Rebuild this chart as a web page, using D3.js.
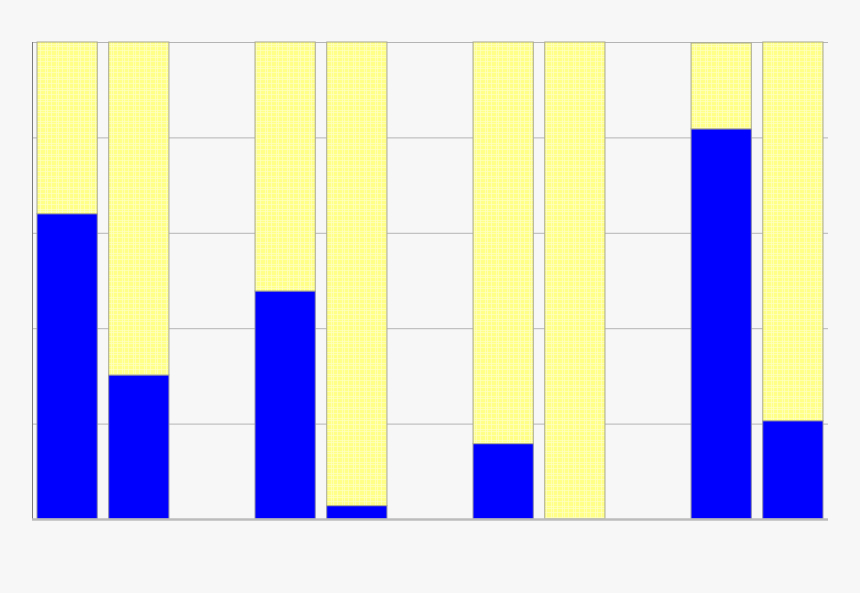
<!DOCTYPE html>
<html>
<head>
<meta charset="utf-8">
<script src="https://cdn.jsdelivr.net/npm/d3@7/dist/d3.min.js"></script>
<style>
  html, body { margin: 0; padding: 0; background: #f7f7f7; }
  svg { display: block; }
</style>
</head>
<body>
<svg id="chart"></svg>
<script>
// groups and the two bars inside each group
const groups = ["A", "B", "C", "D"];
const bars = ["s1", "s2"];

// blue (bottom) and yellow (top) segment values, one per bar, in group order
const blueValues = [64, 30.2, 47.8, 2.8, 15.8, 0, 81.8, 20.6];
const yellowValues = [36, 69.8, 52.2, 97.2, 84.2, 100, 18, 79.4];

const yTicks = [0, 20, 40, 60, 80, 100];

(function() {
  const W = 860, H = 593;
  const margin = { top: 42, right: 32, bottom: 74, left: 32 };
  const width = W - margin.left - margin.right;
  const height = H - margin.top - margin.bottom;

  const root = d3.select("#chart").attr("width", W).attr("height", H);

  // soft hatched yellow fill
  const defs = root.append("defs");
  const pat = defs.append("pattern")
    .attr("id", "yellowPat")
    .attr("patternUnits", "userSpaceOnUse")
    .attr("width", 11).attr("height", 11);
  pat.append("rect").attr("width", 11).attr("height", 11).attr("fill", "#ffff88");
  [2, 4, 8].forEach(p => {
    pat.append("rect").attr("x", p).attr("y", 0).attr("width", 1).attr("height", 11)
      .attr("fill", "#ffffc4").attr("opacity", 0.7);
    pat.append("rect").attr("x", 0).attr("y", p).attr("width", 11).attr("height", 1)
      .attr("fill", "#ffffc4").attr("opacity", 0.7);
  });

  const svg = root.append("g")
    .attr("transform", "translate(" + margin.left + "," + margin.top + ")");

  const data = [];
  groups.forEach((g, gi) => {
    bars.forEach((b, bi) => {
      const i = gi * 2 + bi;
      data.push({ group: g, bar: b, blue: blueValues[i], yellow: yellowValues[i] });
    });
  });

  const x0 = d3.scaleBand()
    .domain(groups)
    .range([0, width])
    .paddingInner(0.395)
    .paddingOuter(0.023);

  const x1 = d3.scaleBand()
    .domain(bars)
    .range([0, x0.bandwidth()])
    .paddingInner(0.16)
    .paddingOuter(0);

  const y = d3.scaleLinear()
    .domain([0, 100])
    .range([height, 0]);

  // gridlines
  svg.append("g")
    .call(d3.axisLeft(y).tickValues(yTicks).tickSize(-width).tickFormat(""))
    .call(g => g.select(".domain").remove())
    .call(g => g.selectAll("line").attr("stroke", "#b4b4b4").attr("stroke-width", 1));

  const bx = d => x0(d.group) + x1(d.bar);

  // blue segments
  svg.selectAll(".blue")
    .data(data)
    .enter()
    .append("rect")
    .attr("class", "blue")
    .attr("x", bx)
    .attr("y", d => y(d.blue))
    .attr("width", x1.bandwidth())
    .attr("height", d => y(0) - y(d.blue))
    .attr("fill", "#0000ff")
    .attr("stroke", "#8a8aa8")
    .attr("stroke-width", 1);

  // yellow segments
  svg.selectAll(".yellow")
    .data(data)
    .enter()
    .append("rect")
    .attr("class", "yellow")
    .attr("x", bx)
    .attr("y", d => y(d.blue + d.yellow))
    .attr("width", x1.bandwidth())
    .attr("height", d => y(d.blue) - y(d.blue + d.yellow))
    .attr("fill", "url(#yellowPat)")
    .attr("stroke", "#a8a890")
    .attr("stroke-width", 1);

  // left axis line
  svg.append("line")
    .attr("x1", 0.5).attr("x2", 0.5)
    .attr("y1", y(100)).attr("y2", y(0))
    .attr("stroke", "#7a7a7a").attr("stroke-width", 1);

  // bottom axis line
  svg.append("line")
    .attr("x1", 0).attr("x2", width)
    .attr("y1", y(0) + 0.5).attr("y2", y(0) + 0.5)
    .attr("stroke", "#bcbcbc").attr("stroke-width", 2.5);
})();
</script>
</body>
</html>
